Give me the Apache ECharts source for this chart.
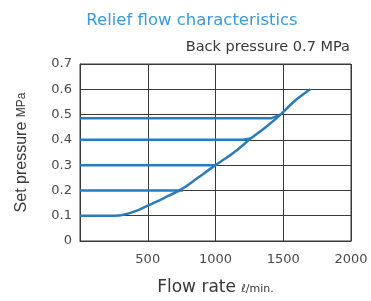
<!DOCTYPE html>
<html>
<head>
<meta charset="utf-8">
<script src="https://cdn.jsdelivr.net/npm/echarts@6/dist/echarts.min.js"></script>
<style>
  html, body { margin: 0; padding: 0; background: #fff; }
  #chart { width: 371px; height: 301px; }
</style>
</head>
<body>
<div id="chart"></div>
<script>
// Relief flow characteristics — back pressure 0.7 MPa

// main characteristic curve (flow l/min, set pressure MPa)
const curveFlow = [0, 250, 330, 420, 500, 620, 750, 870, 1000, 1070, 1160, 1260, 1370, 1480, 1580, 1700];
const curvePres = [0.1, 0.1, 0.105, 0.12, 0.14, 0.17, 0.205, 0.25, 0.3, 0.325, 0.36, 0.405, 0.45, 0.5, 0.552, 0.6];

// horizontal set-pressure lines running into the curve
const line2Flow = [0, 760];
const line2Pres = [0.2, 0.2];
const line3Flow = [0, 1000];
const line3Pres = [0.3, 0.3];
const line4Flow = [0, 1200, 1260];
const line4Pres = [0.4, 0.4, 0.405];
const line5Flow = [0, 1410, 1480];
const line5Pres = [0.485, 0.485, 0.5];

const xTicks = [0, 500, 1000, 1500, 2000];
const yTicks = [0, 0.1, 0.2, 0.3, 0.4, 0.5, 0.6, 0.7];

const BLUE = '#2b7bba';
const GRID = '#3a3a3a';
const FONT = 'DejaVu Sans';

const pairs = (xs, ys) => xs.map((x, i) => [x, ys[i]]);

function lineSeries(xs, ys, smooth) {
  return {
    type: 'line', data: pairs(xs, ys), symbol: 'none', smooth: smooth || false,
    lineStyle: { color: BLUE, width: 2.5 }, z: 3,
  };
}

const c = echarts.init(document.getElementById('chart'), null, { renderer: 'canvas' });
c.setOption({
  animation: false,
  title: [
    { text: 'Relief flow characteristics', left: 187, top: 7, textAlign: 'center',
      textStyle: { color: '#3b9ad8', fontSize: 16.5, fontWeight: 'normal', fontFamily: FONT } },
    { text: 'Back pressure 0.7 MPa', right: 16, top: 35,
      textStyle: { color: '#383838', fontSize: 14.5, fontWeight: 'normal', fontFamily: FONT } },
  ],
  grid: { left: 80, right: 20, top: 64, bottom: 51, show: true, borderColor: GRID, borderWidth: 1 },
  xAxis: {
    type: 'value', min: xTicks[0], max: xTicks[xTicks.length - 1], interval: 500,
    axisLine: { show: true, lineStyle: { color: GRID } },
    axisTick: { show: false },
    splitLine: { show: true, lineStyle: { color: GRID, width: 1 } },
    axisLabel: { color: '#4a4a4a', fontSize: 13, margin: 12, fontFamily: FONT,
      formatter: (v) => v === 0 ? '' : String(v) },
    name: 'Flow rate {s|ℓ/min.}', nameLocation: 'middle', nameGap: 38,
    nameTextStyle: { color: '#383838', fontSize: 17, fontFamily: FONT,
      rich: { s: { fontSize: 11, color: '#383838', fontFamily: FONT, padding: [4, 0, 0, 0] } } },
  },
  yAxis: {
    type: 'value', min: yTicks[0], max: yTicks[yTicks.length - 1], interval: 0.1,
    axisLine: { show: true, lineStyle: { color: GRID } },
    axisTick: { show: false },
    splitLine: { show: true, lineStyle: { color: GRID, width: 1 } },
    axisLabel: { color: '#4a4a4a', fontSize: 13, margin: 8, fontFamily: FONT,
      formatter: (v) => v === 0 ? '0' : v.toFixed(1) },
    name: 'Set pressure {s|MPa}', nameLocation: 'middle', nameGap: 50,
    nameTextStyle: { color: '#383838', fontSize: 16, fontFamily: 'Liberation Sans',
      rich: { s: { fontSize: 12, color: '#383838', fontFamily: 'Liberation Sans' } } },
  },
  series: [
    lineSeries(curveFlow, curvePres, 0.35),
    lineSeries(line2Flow, line2Pres),
    lineSeries(line3Flow, line3Pres),
    lineSeries(line4Flow, line4Pres),
    lineSeries(line5Flow, line5Pres),
  ],
});
</script>
</body>
</html>
